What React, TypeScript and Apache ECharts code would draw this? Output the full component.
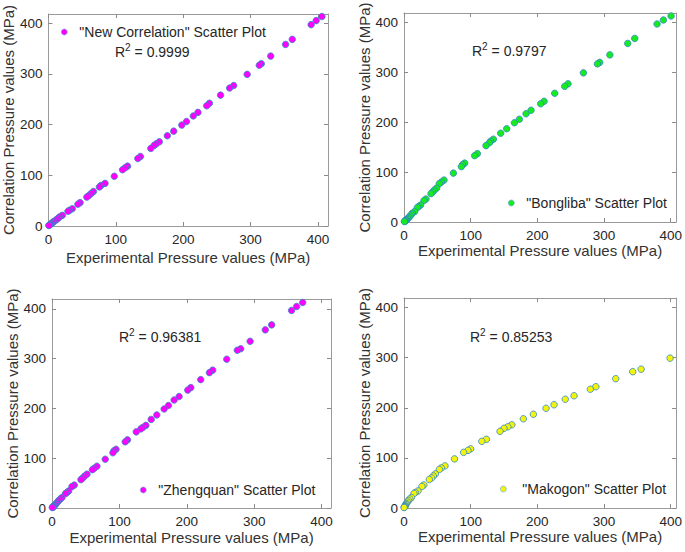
import React, { useEffect, useRef } from 'react';
import * as echarts from 'echarts';

// Shared vertical values (MPa)
const correlationValues = [
  413, 405, 397, 368, 358, 335, 320, 317, 299, 277, 272, 258, 242, 237, 224, 217, 206, 199, 187, 178,
  166, 162, 159, 153, 137, 133, 118, 115, 111, 98, 84, 80, 77, 68, 64, 60, 57, 46, 43, 34,
  31, 29, 21, 18, 15, 12, 9, 7, 5, 4, 3, 2, 1.5, 1,
];

// Horizontal values per panel
const newCorrelationX = [
  406, 397.5, 390, 362, 352, 330, 316, 313, 295, 275, 269, 255.5, 239, 235, 222, 215, 205, 198, 186, 176.5,
  164.6, 160, 157, 152, 136.6, 132.7, 117.4, 114, 110, 97.8, 84, 78, 75.7, 66.8, 63.4, 60, 57, 47, 43.7, 35.4,
  31.4, 29, 20.6, 16.7, 14.3, 11.5, 7.9, 6.5, 4.4, 3.5, 2.5, 1.8, 1.2, 0.6,
];
const bonglibaX = [
  400.5, 389, 379.5, 346, 335.5, 308.7, 293.5, 290, 269, 246, 241, 226, 210, 205, 190.5, 183, 173, 165.6, 154, 145,
  134, 130, 128, 123, 110, 106, 91, 88, 86, 74, 60, 56, 53, 49, 45.4, 43, 40.5, 33, 30, 25,
  22, 20, 16, 12.7, 11, 9, 7.3, 5.5, 4, 3.2, 2.5, 1.7, 1.2, 0.6,
];
const zhengquanX = [
  372, 363, 355.5, 326, 316.5, 294, 280, 275, 259.3, 238.5, 233.6, 220.7, 206, 201.5, 188.6, 181.2, 172.8, 166.4, 155.5, 147.2,
  139.3, 134.8, 131.9, 125, 112, 108.6, 95, 92, 90.4, 79, 66.7, 62.7, 60, 51.9, 48.4, 45.4, 43, 33, 29.6, 24.7,
  22, 20, 14.8, 12.3, 10, 8, 6.4, 5, 3.5, 2.8, 2, 1.5, 1, 0.5,
];
// first eight points fall outside the plotted range
const makogonX = [
  null, null, null, null, null, null, null, null, 399, 355.6, 343, 317.5, 287.7, 279.4, 255, 241.8, 225, 213, 194, 179,
  161.7, 155.8, 150, 144, 123.6, 116.7, 100, 96, 89.4, 75.7, 61.5, 56, 53, 47, 44, 41.5, 38, 29.8, 26.9, 21,
  17, 15, 11.2, 8.8, 6.5, 5, 3.5, 2.8, 2, 1.6, 1.1, 0.7, 0.5, 0.3,
];

const seriesNames = [
  '"New Correlation" Scatter Plot',
  '"Bongliba" Scatter Plot',
  '"Zhengquan" Scatter Plot',
  '"Makogon" Scatter Plot',
];
const r2Values = ['0.9999', '0.9797', '0.96381', '0.85253'];
const tickValues = [0, 100, 200, 300, 400];
const xAxisName = 'Experimental Pressure values (MPa)';
const yAxisName = 'Correlation Pressure values (MPa)';

const panelX = [newCorrelationX, bonglibaX, zhengquanX, makogonX];
const faceColors = ['#ff00ff', '#14ec1e', '#ff00ff', '#f4f40a'];

const FONT = "'Liberation Sans', Arial, sans-serif";

const layout = [
  { grid: { left: 47, top: 14, width: 281, height: 212 }, xMax: 415, yMax: 418, nameGapX: 24, legend: { left: 61, top: 24, w: 20 }, r2: { x: 115, y: 52 } },
  { grid: { left: 404, top: 13, width: 279, height: 209 }, xMax: 408, yMax: 419, nameGapX: 17, legend: { left: 508, top: 195, w: 20 }, r2: { x: 472, y: 51 } },
  { grid: { left: 52, top: 299, width: 279, height: 209 }, xMax: 414, yMax: 420, nameGapX: 22, legend: { left: 140, top: 482, w: 20 }, r2: { x: 119, y: 337 } },
  { grid: { left: 404, top: 298, width: 279, height: 210 }, xMax: 408, yMax: 419, nameGapX: 14, legend: { left: 500, top: 481, w: 28 }, r2: { x: 470, y: 337 } },
];

const axisLine = { show: true, onZero: false, lineStyle: { color: '#9a9a9a', width: 1 } };
const axisTick = { show: true, inside: true, length: 4, customValues: tickValues, lineStyle: { color: '#8a8a8a', width: 1 } };

export default function App() {
  const ref = useRef<HTMLDivElement>(null);

  useEffect(() => {
    if (!ref.current) return;
    const chart = echarts.init(ref.current, undefined, { renderer: 'svg' });

    const grid: any[] = [];
    const xAxis: any[] = [];
    const yAxis: any[] = [];
    const series: any[] = [];
    const legend: any[] = [];
    const graphic: any[] = [];

    layout.forEach((p, i) => {
      grid.push({ ...p.grid, containLabel: false });
      xAxis.push({
        gridIndex: i, type: 'value', min: 0, max: p.xMax, position: 'bottom',
        name: xAxisName, nameLocation: 'middle', nameGap: p.nameGapX,
        nameTextStyle: { fontSize: 15, color: '#333', fontFamily: FONT },
        axisLine, axisTick,
        axisLabel: { customValues: tickValues, fontSize: 13.5, color: '#262626', margin: 6, fontFamily: FONT },
        splitLine: { show: false },
      });
      xAxis.push({
        gridIndex: i, type: 'value', min: 0, max: p.xMax, position: 'top',
        axisLine, axisTick, axisLabel: { show: false }, splitLine: { show: false },
      });
      yAxis.push({
        gridIndex: i, type: 'value', min: 0, max: p.yMax, position: 'left',
        name: yAxisName, nameLocation: 'middle', nameGap: 31,
        nameTextStyle: { fontSize: 15, color: '#333', fontFamily: FONT },
        axisLine, axisTick,
        axisLabel: { customValues: tickValues, fontSize: 13.5, color: '#262626', margin: 6, fontFamily: FONT },
        splitLine: { show: false },
      });
      yAxis.push({
        gridIndex: i, type: 'value', min: 0, max: p.yMax, position: 'right',
        axisLine, axisTick, axisLabel: { show: false }, splitLine: { show: false },
      });

      const xs = panelX[i];
      const data: number[][] = [];
      xs.forEach((x, k) => {
        if (x !== null && x !== undefined) data.push([x as number, correlationValues[k]]);
      });
      series.push({
        type: 'scatter', name: seriesNames[i], xAxisIndex: 2 * i, yAxisIndex: 2 * i,
        data, symbol: 'circle', symbolSize: 6.5,
        itemStyle: { color: faceColors[i], borderColor: '#2e86c9', borderWidth: 0.8, opacity: 1 },
        emphasis: { disabled: true },
      });

      legend.push({
        data: [seriesNames[i]], left: p.legend.left, top: p.legend.top, padding: 0,
        itemWidth: p.legend.w, itemHeight: 6, icon: 'circle', selectedMode: false,
        itemStyle: { color: faceColors[i], borderColor: '#5aa0d8', borderWidth: 0.6 },
        textStyle: { fontSize: 14, color: '#262626', fontFamily: FONT, lineHeight: 16 },
      });

      graphic.push({
        type: 'text', x: p.r2.x, y: p.r2.y,
        style: {
          text: '{r|R}{s|2}{r| = ' + r2Values[i] + '}',
          verticalAlign: 'middle', align: 'left',
          rich: {
            r: { fontSize: 14, fontFamily: FONT, fill: '#262626', lineHeight: 20 },
            s: { fontSize: 10, fontFamily: FONT, fill: '#262626', lineHeight: 10, verticalAlign: 'top' },
          },
        },
      });
    });

    chart.setOption({
      animation: false,
      backgroundColor: '#ffffff',
      textStyle: { fontFamily: FONT },
      grid, xAxis, yAxis, series, legend, graphic,
    });

    return () => chart.dispose();
  }, []);

  return <div ref={ref} style={{ position: 'fixed', left: 0, top: 0, width: 685, height: 552 }} />;
}
